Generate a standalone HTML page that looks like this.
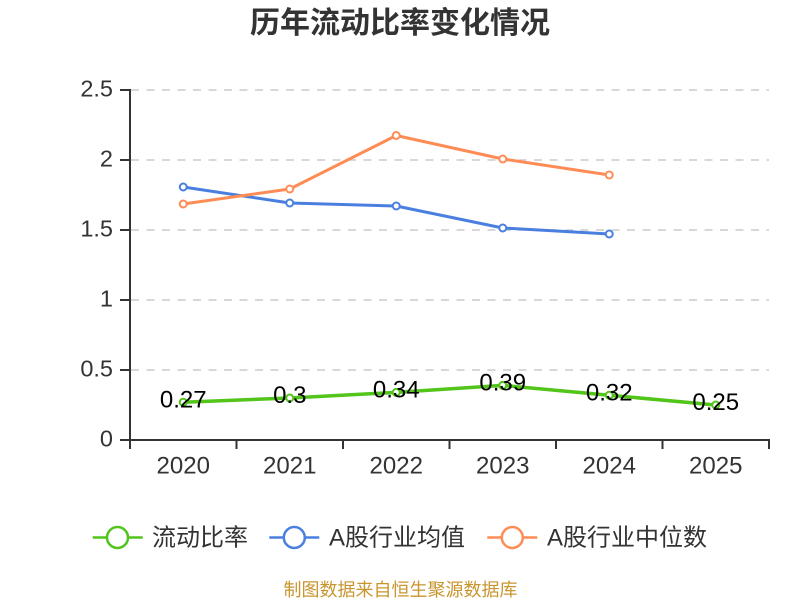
<!DOCTYPE html>
<html>
<head>
<meta charset="utf-8">
<style>
html,body{margin:0;padding:0;background:#fff;}
svg{display:block;}
text{font-family:"Liberation Sans","Noto Sans CJK SC",sans-serif;}
</style>
</head>
<body>
<svg width="800" height="600" viewBox="0 0 800 600" xmlns="http://www.w3.org/2000/svg">
<rect width="800" height="600" fill="#fff"/>
<!-- title -->
<text x="400" y="33" text-anchor="middle" font-size="30" font-weight="bold" fill="#333" style="font-family:'Liberation Sans','Noto Sans CJK SC',sans-serif">历年流动比率变化情况</text>

<!-- grid lines -->
<g stroke="#cccccc" stroke-width="1.5" stroke-dasharray="8 7.5">
<line x1="131" y1="90" x2="769" y2="90"/>
<line x1="131" y1="160" x2="769" y2="160"/>
<line x1="131" y1="230" x2="769" y2="230"/>
<line x1="131" y1="300" x2="769" y2="300"/>
<line x1="131" y1="370" x2="769" y2="370"/>
</g>

<!-- axes -->
<g stroke="#333" stroke-width="2" fill="none">
<line x1="130" y1="89" x2="130" y2="441"/>
<line x1="129" y1="440" x2="770" y2="440"/>
<line x1="120" y1="90" x2="130" y2="90"/>
<line x1="120" y1="160" x2="130" y2="160"/>
<line x1="120" y1="230" x2="130" y2="230"/>
<line x1="120" y1="300" x2="130" y2="300"/>
<line x1="120" y1="370" x2="130" y2="370"/>
<line x1="120" y1="440" x2="130" y2="440"/>
<line x1="130" y1="440" x2="130" y2="449"/>
<line x1="236.5" y1="440" x2="236.5" y2="449"/>
<line x1="343" y1="440" x2="343" y2="449"/>
<line x1="449.5" y1="440" x2="449.5" y2="449"/>
<line x1="556" y1="440" x2="556" y2="449"/>
<line x1="662.5" y1="440" x2="662.5" y2="449"/>
<line x1="769" y1="440" x2="769" y2="449"/>
</g>

<!-- y labels -->
<g font-size="23.5" fill="#333" text-anchor="end">
<text x="113" y="96.5">2.5</text>
<text x="113" y="166.5">2</text>
<text x="113" y="236.5">1.5</text>
<text x="113" y="306.5">1</text>
<text x="113" y="376.5">0.5</text>
<text x="113" y="446.5">0</text>
</g>

<!-- x labels -->
<g font-size="24" fill="#333" text-anchor="middle">
<text x="183.25" y="473.6">2020</text>
<text x="289.75" y="473.6">2021</text>
<text x="396.25" y="473.6">2022</text>
<text x="502.75" y="473.6">2023</text>
<text x="609.25" y="473.6">2024</text>
<text x="715.75" y="473.6">2025</text>
</g>

<!-- green series -->
<polyline fill="none" stroke="#52c41a" stroke-width="3.5" stroke-linejoin="round" points="183.25,402.2 289.75,398 396.25,392.4 502.75,385.4 609.25,395.2 715.75,405"/>
<g fill="#fff" stroke="#52c41a" stroke-width="2">
<circle cx="183.25" cy="402.2" r="3.5"/>
<circle cx="289.75" cy="398" r="3.5"/>
<circle cx="396.25" cy="392.4" r="3.5"/>
<circle cx="502.75" cy="385.4" r="3.5"/>
<circle cx="609.25" cy="395.2" r="3.5"/>
<circle cx="715.75" cy="405" r="3.5"/>
</g>

<!-- blue series -->
<polyline fill="none" stroke="#4a7fe0" stroke-width="3" stroke-linejoin="round" points="183.25,187 289.75,203 396.25,206 502.75,228 609.25,234"/>
<g fill="#fff" stroke="#4a7fe0" stroke-width="2">
<circle cx="183.25" cy="187" r="3.5"/>
<circle cx="289.75" cy="203" r="3.5"/>
<circle cx="396.25" cy="206" r="3.5"/>
<circle cx="502.75" cy="228" r="3.5"/>
<circle cx="609.25" cy="234" r="3.5"/>
</g>

<!-- orange series -->
<polyline fill="none" stroke="#ff8c55" stroke-width="3" stroke-linejoin="round" points="183.25,204 289.75,189 396.25,135.5 502.75,159 609.25,175"/>
<g fill="#fff" stroke="#ff8c55" stroke-width="2">
<circle cx="183.25" cy="204" r="3.5"/>
<circle cx="289.75" cy="189" r="3.5"/>
<circle cx="396.25" cy="135.5" r="3.5"/>
<circle cx="502.75" cy="159" r="3.5"/>
<circle cx="609.25" cy="175" r="3.5"/>
</g>

<!-- data labels -->
<g font-size="24" fill="#000" text-anchor="middle">
<text x="183.25" y="407.3">0.27</text>
<text x="289.75" y="403.1">0.3</text>
<text x="396.25" y="397.5">0.34</text>
<text x="502.75" y="390.5">0.39</text>
<text x="609.25" y="400.3">0.32</text>
<text x="715.75" y="410.1">0.25</text>
</g>

<!-- legend -->
<g stroke-width="2.5" fill="#fff">
<line x1="92.7" y1="537.5" x2="142.7" y2="537.5" stroke="#52c41a"/>
<circle cx="117.5" cy="537.5" r="10.5" stroke="#52c41a"/>
<line x1="269.3" y1="537.5" x2="319.3" y2="537.5" stroke="#4a7fe0"/>
<circle cx="294.3" cy="537.5" r="10.5" stroke="#4a7fe0"/>
<line x1="487.3" y1="537.5" x2="537.3" y2="537.5" stroke="#ff8c55"/>
<circle cx="512.3" cy="537.5" r="10.5" stroke="#ff8c55"/>
</g>
<g font-size="24" fill="#333">
<text x="152" y="545.5">流动比率</text>
<text x="329" y="545.5">A股行业均值</text>
<text x="547" y="545.5">A股行业中位数</text>
</g>

<!-- footer -->
<text x="400.5" y="596" text-anchor="middle" font-size="18" fill="#c9952e">制图数据来自恒生聚源数据库</text>
</svg>
</body>
</html>
